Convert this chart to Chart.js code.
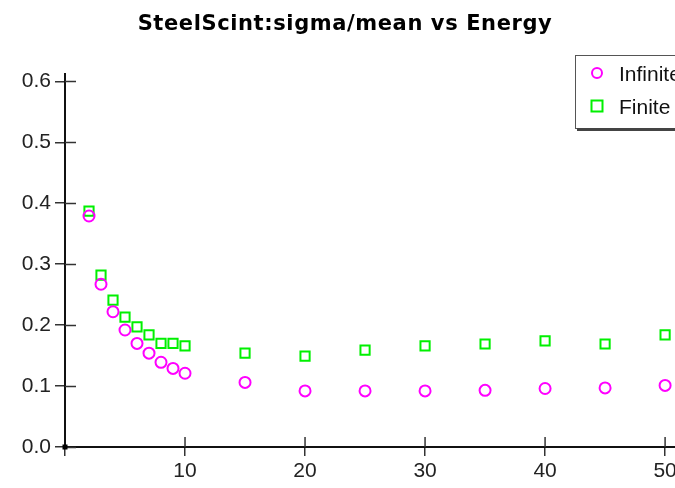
<!DOCTYPE html>
<html>
<head>
<meta charset="utf-8">
<script src="https://cdn.jsdelivr.net/npm/chart.js@4.4.0/dist/chart.umd.min.js"></script>
<style>
  html, body { margin: 0; padding: 0; background: #fff; overflow: hidden; width: 675px; height: 488px; }
  #wrap { position: absolute; left: 0; top: 0; width: 700px; height: 488px; }
</style>
</head>
<body>
<div id="wrap"><canvas id="c" width="700" height="488"></canvas></div>
<script>
const chartTitle = "SteelScint:sigma/mean vs Energy";
const energies = [2, 3, 4, 5, 6, 7, 8, 9, 10, 15, 20, 25, 30, 35, 40, 45, 50];
const infiniteLabel = "Infinite";
const infiniteValues = [0.379, 0.267, 0.222, 0.192, 0.170, 0.154, 0.139, 0.129, 0.121, 0.106, 0.092, 0.092, 0.092, 0.093, 0.096, 0.097, 0.101];
const finiteLabel = "Finite";
const finiteValues = [0.387, 0.282, 0.241, 0.213, 0.197, 0.184, 0.170, 0.170, 0.166, 0.154, 0.149, 0.159, 0.166, 0.169, 0.174, 0.169, 0.184];
const xTickValues = [0, 10, 20, 30, 40, 50];
const yTickValues = [0, 0.1, 0.2, 0.3, 0.4, 0.5, 0.6];

const FONT = "'Liberation Sans', Arial, sans-serif";

const titleDraw = {
  id: 'titleDraw',
  afterDraw(chart) {
    const ctx = chart.ctx;
    ctx.save();
    ctx.font = "bold 21px 'DejaVu Sans', sans-serif";
    try { ctx.letterSpacing = '0.6px'; } catch (e) {}
    ctx.fillStyle = '#000';
    ctx.textAlign = 'center';
    ctx.textBaseline = 'alphabetic';
    ctx.fillText(chartTitle, 345, 30);
    ctx.restore();
  }
};

const innerTicks = {
  id: 'innerTicks',
  afterDraw(chart) {
    const ctx = chart.ctx;
    const xs = chart.scales.x, ys = chart.scales.y;
    const ca = chart.chartArea;
    ctx.save();
    ctx.strokeStyle = '#333';
    ctx.lineWidth = 1.5;
    ys.ticks.forEach(t => {
      const py = Math.round(ys.getPixelForValue(t.value)) + 0.5;
      ctx.beginPath(); ctx.moveTo(ca.left, py); ctx.lineTo(ca.left + 11, py); ctx.stroke();
    });
    xs.ticks.forEach(t => {
      if (t.value === 0) return;
      const px = xs.getPixelForValue(t.value);
      ctx.beginPath(); ctx.moveTo(px, ca.bottom); ctx.lineTo(px, ca.bottom - 10); ctx.stroke();
    });
    ctx.fillStyle = '#000';
    ctx.fillRect(ca.left - 2.5, ca.bottom - 2.5, 5, 5);
    ctx.restore();
  }
};

const boxLegend = {
  id: 'boxLegend',
  afterDraw(chart) {
    const ctx = chart.ctx;
    const L = 575, T = 55, R = 720, B = 131;
    ctx.save();
    ctx.fillStyle = '#fff';
    ctx.fillRect(L, T, R - L, B - T);
    ctx.strokeStyle = '#555';
    ctx.lineWidth = 1;
    ctx.strokeRect(L + 0.5, T + 0.5, R - L, B - T - 3);
    ctx.fillStyle = '#444';
    ctx.fillRect(L + 2, B - 3, R - L, 3);
    const rows = [
      { ds: chart.data.datasets[0], y: 73 },
      { ds: chart.data.datasets[1], y: 106 }
    ];
    ctx.font = "21px " + FONT;
    ctx.textBaseline = 'middle';
    ctx.textAlign = 'left';
    rows.forEach(r => {
      ctx.strokeStyle = r.ds.borderColor;
      ctx.lineWidth = 2;
      ctx.beginPath();
      if (r.ds.pointStyle === 'rect') {
        ctx.rect(591.5, r.y - 5.5, 11, 11);
      } else {
        ctx.arc(597, r.y, 5, 0, Math.PI * 2);
      }
      ctx.stroke();
      ctx.fillStyle = '#111';
      ctx.fillText(r.ds.label, 619, r.y + 2);
    });
    ctx.restore();
  }
};

new Chart(document.getElementById('c'), {
  type: 'scatter',
  data: {
    datasets: [
      {
        label: infiniteLabel,
        data: energies.map((e, i) => ({ x: e, y: infiniteValues[i] })),
        pointStyle: 'circle',
        pointRadius: 5.5,
        borderColor: '#ff00ff',
        backgroundColor: 'rgba(0,0,0,0)',
        borderWidth: 2
      },
      {
        label: finiteLabel,
        data: energies.map((e, i) => ({ x: e, y: finiteValues[i] })),
        pointStyle: 'rect',
        pointRadius: 6.5,
        borderColor: '#00f000',
        backgroundColor: 'rgba(0,0,0,0)',
        borderWidth: 2
      }
    ]
  },
  options: {
    responsive: false,
    animation: false,
    layout: { padding: { top: 74, left: 0, right: 0, bottom: 0 } },
    plugins: {
      legend: { display: false },
      tooltip: { enabled: false },
      title: { display: false }
    },
    scales: {
      x: {
        type: 'linear',
        min: 0,
        max: 52.2,
        afterFit(s) { s.height = 41; },
        afterBuildTicks(s) { s.ticks = xTickValues.map(v => ({ value: v })); },
        ticks: {
          color: '#222',
          font: { family: FONT, size: 21 },
          padding: 3,
          callback: v => (v === 0 ? '' : String(v))
        },
        grid: { drawOnChartArea: false, drawTicks: true, tickLength: 9, color: '#333', lineWidth: 1.5 },
        border: { color: '#111', width: 2 }
      },
      y: {
        type: 'linear',
        min: 0,
        max: 0.612,
        afterFit(s) { s.width = 65; },
        afterBuildTicks(s) { s.ticks = yTickValues.map(v => ({ value: v })); },
        ticks: {
          color: '#222',
          font: { family: FONT, size: 21 },
          padding: 4,
          callback: v => Number(v).toFixed(1)
        },
        grid: { drawOnChartArea: false, drawTicks: true, tickLength: 10, color: '#333', lineWidth: 1.5 },
        border: { color: '#111', width: 2 }
      }
    }
  },
  plugins: [innerTicks, boxLegend, titleDraw]
});
</script>
</body>
</html>
